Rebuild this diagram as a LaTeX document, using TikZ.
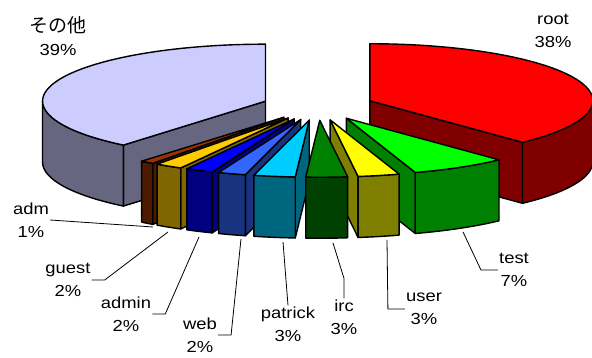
\documentclass[tikz,border=0pt]{standalone}
\usepackage{fontspec}
\setmainfont{Liberation Sans}[FakeStretch=1.15]
\newfontfamily\jpfont{Noto Sans CJK JP}
\usepackage{tikz}
\usetikzlibrary{calc}
\definecolor{rootcolor}{RGB}{255,0,0}
\definecolor{rootside}{RGB}{128,0,0}
\definecolor{testcolor}{RGB}{0,255,0}
\definecolor{testside}{RGB}{0,128,0}
\definecolor{usercolor}{RGB}{255,255,0}
\definecolor{userside}{RGB}{128,128,0}
\definecolor{irccolor}{RGB}{0,128,0}
\definecolor{ircside}{RGB}{0,64,0}
\definecolor{patrickcolor}{RGB}{0,204,255}
\definecolor{patrickside}{RGB}{0,102,128}
\definecolor{webcolor}{RGB}{51,102,255}
\definecolor{webside}{RGB}{26,51,128}
\definecolor{admincolor}{RGB}{0,0,255}
\definecolor{adminside}{RGB}{0,0,128}
\definecolor{guestcolor}{RGB}{255,204,0}
\definecolor{guestside}{RGB}{128,102,0}
\definecolor{admcolor}{RGB}{153,51,0}
\definecolor{admside}{RGB}{77,26,0}
\definecolor{othercolor}{RGB}{204,204,255}
\definecolor{otherside}{RGB}{102,102,128}

\begin{document}
\begin{tikzpicture}[
    x=1pt, y=1pt,
    slice/.style={
        draw=black,
        line width=1.4pt,
        line join=round
    },
    leader/.style={
        draw=black,
        line width=0.8pt
    },
    pielabel/.style={
        align=center,
        inner sep=1pt,
        font=\fontsize{16}{23}\selectfont
    }
]

% Frame
\useasboundingbox (0,0) rectangle (592,358);

% Pie: half axes, height, explode
\def\pa{223}\def\pb{57}\def\ph{61}\def\pr{0.25}
\coordinate (centre) at (318,252);

% Slices, back to front
\foreach \ta/\tb/\topc/\sidec in {
    0/136.8/rootcolor/rootside,
    219.6/360/othercolor/otherside,
    216/219.6/admcolor/admside,
    208.8/216/guestcolor/guestside,
    136.8/162/testcolor/testside,
    201.6/208.8/admincolor/adminside,
    194.4/201.6/webcolor/webside,
    162/172.8/usercolor/userside,
    183.6/194.4/patrickcolor/patrickside,
    172.8/183.6/irccolor/ircside}{
    \pgfmathsetmacro{\tm}{(\ta+\tb)/2}
    \pgfmathsetmacro{\sa}{max(\ta,90)}
    \pgfmathsetmacro{\sb}{min(\tb,270)}
    \pgfmathtruncatemacro{\facea}{sin(\ta) < -0.01}
    \pgfmathtruncatemacro{\faceb}{sin(\tb) > 0.01}
    \coordinate (c) at ($(centre)+({\pr*\pa*sin(\tm)},{\pr*\pb*cos(\tm)})$);
    % cut faces
    \ifnum\facea=1
        \filldraw[slice, fill=\sidec] (c) -- ++({\pa*sin(\ta)},{\pb*cos(\ta)})
            -- ++(0,-\ph) -- ++({-\pa*sin(\ta)},{-\pb*cos(\ta)}) -- cycle;
    \fi
    \ifnum\faceb=1
        \filldraw[slice, fill=\sidec] (c) -- ++({\pa*sin(\tb)},{\pb*cos(\tb)})
            -- ++(0,-\ph) -- ++({-\pa*sin(\tb)},{-\pb*cos(\tb)}) -- cycle;
    \fi
    % outer side
    \filldraw[slice, fill=\sidec] ($(c)+({\pa*sin(\sa)},{\pb*cos(\sa)})$)
        arc[start angle={90-\sa}, end angle={90-\sb}, x radius=\pa pt, y radius=\pb pt]
        -- ++(0,-\ph)
        arc[start angle={90-\sb}, end angle={90-\sa}, x radius=\pa pt, y radius=\pb pt]
        -- cycle;
    % top
    \filldraw[slice, fill=\topc] (c) -- ($(c)+({\pa*sin(\ta)},{\pb*cos(\ta)})$)
        arc[start angle={90-\ta}, end angle={90-\tb}, x radius=\pa pt, y radius=\pb pt]
        -- cycle;
}

% Labels
\node[pielabel] (root) at (553,327) {root\\38\%};
\node[pielabel] (other) at (58,322) {{\jpfont\fontsize{19}{23}\selectfont その他}\\39\%};
\node[pielabel] (test) at (514,88) {test\\7\%};
\node[pielabel] (user) at (424,49) {user\\3\%};
\node[pielabel] (irc) at (344,41) {irc\\3\%};
\node[pielabel] (patrick) at (288,34) {patrick\\3\%};
\node[pielabel] (web) at (200,23) {web\\2\%};
\node[pielabel] (admin) at (126,44) {admin\\2\%};
\node[pielabel] (guest) at (68,78) {guest\\2\%};
\node[pielabel] (adm) at (31,138) {adm\\1\%};

% Leader ends on the slices
\coordinate (testend) at (463,126);
\coordinate (userend) at (387,118);
\coordinate (ircend) at (333,115);
\coordinate (patrickend) at (283,116);
\coordinate (webend) at (241,119);
\coordinate (adminend) at (199,121);
\coordinate (guestend) at (168,126);
\coordinate (admend) at (153,131);

% Leaders
\draw[leader] (test.west) -- ++(-17,0) -- (testend);
\draw[leader] (user.west) -- ++(-17,0) -- (userend);
\draw[leader] (irc.north) -- ++(0,20) -- (ircend);
\draw[leader] (patrick.north) -- (patrickend);
\draw[leader] (web.east) -- ++(13,0) -- (webend);
\draw[leader] (admin.east) -- ++(13,0) -- (adminend);
\draw[leader] (guest.east) -- ++(13,0) -- (guestend);
\draw[leader] (adm.east) -- (admend);

\end{tikzpicture}
\end{document}
